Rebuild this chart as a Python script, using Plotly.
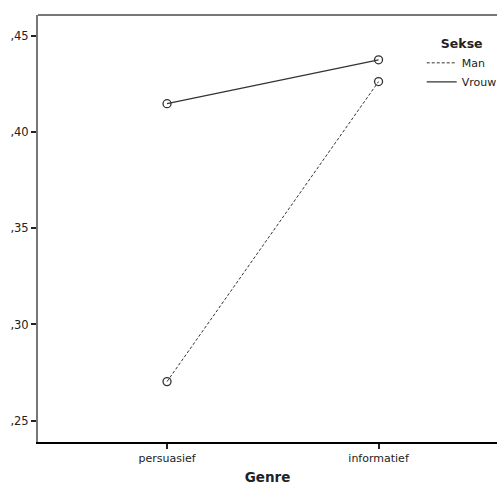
import plotly.graph_objects as go

categories = ["persuasief", "informatief"]
man_values = [0.2703, 0.4263]
vrouw_values = [0.4148, 0.4376]
y_tick_vals = [0.25, 0.30, 0.35, 0.40, 0.45]
y_tick_text = [",25", ",30", ",35", ",40", ",45"]

FONT = "DejaVu Sans"
LINE_COLOR = "#333333"
fig = go.Figure()
series = [("Man", man_values, "3px,2px", 1.0), ("Vrouw", vrouw_values, "solid", 1.2)]
for name, vals, dash, w in series:
    fig.add_trace(go.Scatter(
        x=[1, 2], y=vals, name=name, mode="lines+markers", showlegend=False,
        line=dict(color=LINE_COLOR, width=w, dash=dash),
        marker=dict(symbol="circle-open", size=8, color=LINE_COLOR, line=dict(width=1.3)),
    ))
for name, vals, dash, w in series:
    fig.add_trace(go.Scatter(
        x=[None], y=[None], name=name, mode="lines", showlegend=True,
        line=dict(color=LINE_COLOR, width=w, dash=dash),
    ))

fig.update_layout(
    width=498, height=490, autosize=False,
    margin=dict(l=38, r=1, t=15, b=48, autoexpand=False),
    paper_bgcolor="white", plot_bgcolor="white",
    font=dict(family=FONT, size=11, color="#222222"),
    showlegend=True,
    legend=dict(
        x=0.836, y=0.960, xanchor="left", yanchor="top",
        title=dict(text="<b>Sekse</b>", side="top center", font=dict(size=12.5, family=FONT)),
        font=dict(size=11, family=FONT),
        itemwidth=30, tracegroupgap=0,
        bgcolor="rgba(0,0,0,0)",
    ),
    xaxis=dict(
        range=[0.39, 2.56], tickvals=[1, 2], ticktext=categories,
        showgrid=False, zeroline=False,
        showline=True, linecolor="black", linewidth=2,
        ticks="outside", ticklen=5, tickwidth=2, tickcolor="#222222",
        tickfont=dict(size=11, family=FONT),
        title=dict(text="<b>Genre</b>", font=dict(size=13.5, family=FONT), standoff=8),
    ),
    yaxis=dict(
        range=[0.2389, 0.4609], tickvals=y_tick_vals, ticktext=y_tick_text,
        showgrid=False, zeroline=False,
        showline=True, linecolor="#777777", linewidth=2,
        ticks="outside", ticklen=5, tickwidth=2, tickcolor="#222222",
        tickfont=dict(size=11.5, family=FONT),
    ),
    shapes=[dict(type="line", xref="paper", yref="paper", x0=0, x1=1, y0=1, y1=1,
                 line=dict(color="#777777", width=2))],
)
fig.write_html(
    "out.html",
    config={"displayModeBar": False, "responsive": False},
    post_script=(
        "document.documentElement.style.margin='0px';"
        "document.documentElement.style.overflow='hidden';"
        "document.body.style.margin='0px';document.body.style.padding='0px';"
        "document.body.style.overflow='hidden';"
    ),
)
